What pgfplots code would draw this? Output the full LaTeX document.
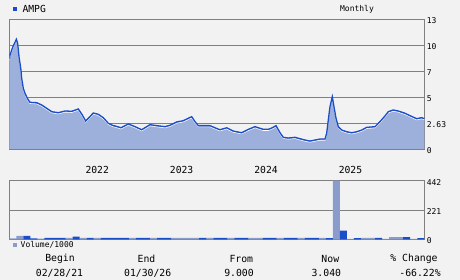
\documentclass[border=0pt]{standalone}
\usepackage{pgfplots}
\pgfplotsset{compat=1.18}
\usepackage{fontspec}
\setmainfont{DejaVu Sans Mono}
\definecolor{bgc}{HTML}{F2F2F2}
\definecolor{framec}{HTML}{808080}
\definecolor{linec}{HTML}{1A4DC8}
\definecolor{fillc}{HTML}{9DB0DC}
\definecolor{lightbar}{HTML}{8A9CCB}
\definecolor{darkbar}{HTML}{1A4DC8}
\pgfplotstableread{
m p
0.00 9.00
0.10 9.42
0.34 9.92
0.57 10.35
0.81 10.69
1.00 11.00
1.19 10.59
1.38 9.25
1.52 8.59
1.66 7.92
1.76 7.09
1.99 6.08
2.23 5.58
2.62 5.01
2.94 4.68
3.90 4.64
4.61 4.41
5.32 4.08
6.03 3.74
6.97 3.64
7.92 3.81
8.87 3.78
9.81 4.01
10.38 3.41
10.86 2.81
11.33 3.14
11.94 3.61
12.65 3.48
13.36 3.14
14.07 2.58
14.79 2.34
15.03 2.31
15.88 2.13
16.92 2.51
17.87 2.24
18.82 1.93
20.00 2.44
20.96 2.34
22.14 2.24
22.85 2.38
23.80 2.71
24.74 2.84
25.45 3.08
25.93 3.24
26.40 2.74
26.87 2.34
28.53 2.34
29.24 2.13
29.95 1.93
30.91 2.13
31.84 1.80
33.04 1.63
33.98 1.97
34.93 2.24
36.11 1.97
36.82 1.97
37.39 2.13
37.92 2.34
38.49 1.63
38.95 1.17
39.66 1.10
40.62 1.17
41.33 1.03
42.04 0.90
42.75 0.80
43.46 0.90
44.17 1.00
44.88 1.00
45.12 1.57
45.35 2.91
45.59 4.24
45.92 5.24
46.16 4.24
46.45 3.08
46.77 2.24
47.26 1.90
47.97 1.73
48.68 1.63
49.39 1.73
50.10 1.90
50.81 2.17
52.00 2.24
52.70 2.74
53.41 3.31
53.88 3.74
54.59 3.91
55.30 3.81
56.26 3.58
56.97 3.34
57.92 3.04
58.63 3.14
59.00 3.04
}\pricetable
\pgfplotstableread{
x v
0.5 7
1.5 25
4.5 5
8.5 10
10.5 10
12.5 10
17.5 10
20.5 10
23.5 10
24.5 10
25.5 10
26.5 10
28.5 10
31.5 10
34.5 10
35.5 10
38.5 10
41.5 10
44.5 10
46.5 442
48.5 3
50.5 10
51.5 10
53.5 3
54.5 17
55.5 17
57.5 3
}\lightvol
\pgfplotstableread{
x v
2.5 25
3.5 7
5.5 10
6.5 10
7.5 10
9.5 20
11.5 10
13.5 10
14.5 10
15.5 10
16.5 10
18.5 10
19.5 10
21.5 10
22.5 10
27.5 10
29.5 10
30.5 10
32.5 10
33.5 10
36.5 10
37.5 10
39.5 10
40.5 10
42.5 10
43.5 10
45.5 8
47.5 65
49.5 8
52.5 10
56.5 17
58.5 8
}\darkvol
\pgfplotsset{
  chartbase/.style={
    scale only axis, width=415pt,
    xmin=0, xmax=59,
    axis line style={framec, line width=0.9pt},
    major grid style={framec, line width=0.9pt},
    ymajorgrids, xmajorgrids=false,
    tick style={draw=none},
    ytick pos=right, yticklabel pos=right,
    yticklabel style={anchor=west, xshift=-1pt, yshift=-1.5pt, font=\fontsize{8}{9}\selectfont},
    /pgf/number format/assume math mode=true,
    axis background/.style={fill=bgc},
  }
}
\begin{document}
\begin{tikzpicture}[x=1pt,y=1pt]
\fill[bgc] (0,0) rectangle (460,280);
\coordinate (pricesw) at (9.3,131);
\coordinate (volsw) at (9.3,40.7);
% price chart
\begin{axis}[chartbase, at={(pricesw)}, anchor=south west, height=129.7pt,
  ymin=0, ymax=13,
  ytick={0,2.6,5.2,7.8,10.4,13}, yticklabels={0,2.63,5,7,10,13},
  xtick={12.5,24.5,36.5,48.5}, xticklabels={2022,2023,2024,2025},
  xticklabel style={font=\fontsize{9.7}{11}\selectfont, yshift=-14pt},
  clip=true]
\addplot[fill=fillc, draw=none] table[x=m, y=p] {\pricetable} \closedcycle;
\addplot[white, line width=0.6pt, yshift=-1.2pt] table[x=m, y=p] {\pricetable};
\addplot[linec, line width=1.3pt] table[x=m, y=p] {\pricetable};
\end{axis}
% volume chart
\begin{axis}[chartbase, at={(volsw)}, anchor=south west, height=58.6pt,
  ymin=0, ymax=442, ytick={0,221,442},
  xtick=\empty, clip=true]
\addplot[ybar, bar width=1, bar shift=0pt, fill=lightbar, draw=none] table[x=x, y=v] {\lightvol};
\addplot[ybar, bar width=1, bar shift=0pt, fill=darkbar, draw=none] table[x=x, y=v] {\darkvol};
\end{axis}
% titles and legends
\fill[linec] (13.3,268.7) rectangle (17.3,272.7);
\node[anchor=west, inner sep=0pt, font=\fontsize{9.7}{11}\selectfont] at (22.3,270.8) {AMPG};
\node[inner sep=0pt, font=\fontsize{8}{9}\selectfont] at (357,271) {Monthly};
\fill[lightbar] (13,33) rectangle (17,37);
\node[anchor=west, inner sep=0pt, font=\fontsize{8}{9}\selectfont] at (20.5,35) {Volume/1000};
\begin{scope}[every node/.style={inner sep=0pt, font=\fontsize{9.8}{11}\selectfont}]
\node at (60,21) {Begin};
\node at (59.5,6.7) {02/28/21};
\node at (146.5,21) {End};
\node at (147.7,6.7) {01/30/26};
\node at (241.3,21) {From};
\node at (239,6.7) {9.000};
\node at (330.3,21) {Now};
\node at (326.3,6.7) {3.040};
\node at (414,21) {\% Change};
\node at (420,6.7) {-66.22\%};
\end{scope}
\end{tikzpicture}
\end{document}
